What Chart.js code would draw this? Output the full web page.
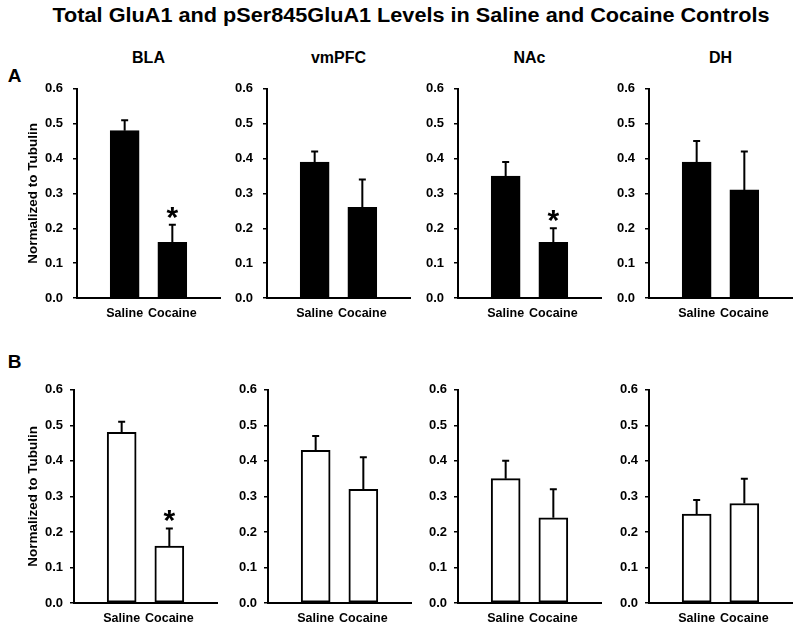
<!DOCTYPE html>
<html><head><meta charset="utf-8">
<script src="https://cdn.jsdelivr.net/npm/chart.js@4/dist/chart.umd.min.js"></script>
<style>
body{margin:0;background:#fff;}
#wrap{position:relative;width:800px;height:630px;overflow:hidden;background:#fff;font-family:"Liberation Sans",Arial,sans-serif;}
#wrap canvas{position:absolute;}
.lbl{position:absolute;white-space:nowrap;font-weight:bold;color:#000;font-family:"Liberation Sans",Arial,sans-serif;}
</style></head><body><div id="wrap"></div>
<script>
// ---------- data ----------
const figureTitle = 'Total GluA1 and pSer845GluA1 Levels in Saline and Cocaine Controls';
const regions = ['BLA', 'vmPFC', 'NAc', 'DH'];
const groups = ['Saline', 'Cocaine'];
const rowLabels = ['A', 'B'];
const yTicks = [0.0, 0.1, 0.2, 0.3, 0.4, 0.5, 0.6];
const yAxisTitle = 'Normalized to Tubulin';

// Row A: total GluA1  (per region: [Saline, Cocaine])
const totalMean = [[0.48, 0.16], [0.39, 0.26], [0.35, 0.16], [0.39, 0.31]];
const totalSem  = [[0.03, 0.05], [0.03, 0.08], [0.04, 0.04], [0.06, 0.11]];
const totalSig  = [[false, true], [false, false], [false, true], [false, false]];

// Row B: pSer845 GluA1
const phosMean = [[0.48, 0.16], [0.43, 0.32], [0.35, 0.24], [0.25, 0.28]];
const phosSem  = [[0.03, 0.05], [0.04, 0.09], [0.05, 0.08], [0.04, 0.07]];
const phosSig  = [[false, true], [false, false], [false, false], [false, false]];

// ---------- layout ----------
const FAM = '"Liberation Sans", Arial, sans-serif';
const rows = [
  {mean: totalMean, sem: totalSem, sig: totalSig, fill: '#000000', plotTop: 81, plotBottom: 298,
   axisX: [77, 267, 458, 649], tickPad: 10, titlePad: 25, rowBase: 82},
  {mean: phosMean, sem: phosSem, sig: phosSig, fill: '#ffffff', plotTop: 385, plotBottom: 603,
   axisX: [74, 268, 458, 649], tickPad: 7, titlePad: 28, rowBase: 368}
];
const YW = 77, PW = 143, PADT = 10, XH = 30;
const wrap = document.getElementById('wrap');

function addLabel(text, size, cx, baseline) {
  const d = document.createElement('div');
  d.className = 'lbl';
  d.textContent = text;
  d.style.fontSize = size + 'px';
  d.style.lineHeight = size + 'px';
  d.style.left = cx + 'px';
  d.style.top = (baseline - 0.8465 * size) + 'px';
  d.style.transform = 'translateX(-50%)';
  wrap.appendChild(d);
  return d;
}

// figure title
const t = addLabel(figureTitle, 20, 411, 22);
const tw = t.offsetWidth;
const k = 717 / tw;
t.style.transform = 'translateX(-50%) scaleX(' + k + ')';

const errPlugin = {
  id: 'err',
  afterDatasetsDraw(chart, args, opts) {
    const {ctx, scales: {x, y}} = chart;
    ctx.save();
    ctx.strokeStyle = '#000';
    ctx.lineWidth = 2;
    opts.mean.forEach((m, i) => {
      const px = x.getPixelForValue(i + 1);
      const y0 = y.getPixelForValue(m);
      const y1 = y.getPixelForValue(m + opts.sem[i]);
      ctx.beginPath();
      ctx.moveTo(px, y0); ctx.lineTo(px, y1);
      ctx.moveTo(px - 3.5, y1); ctx.lineTo(px + 3.5, y1);
      ctx.stroke();
      if (opts.sig[i]) {
        ctx.fillStyle = '#000';
        ctx.font = 'bold 30px ' + FAM;
        ctx.textAlign = 'center';
        ctx.textBaseline = 'alphabetic';
        ctx.fillText('*', px, y1 + 2);
      }
    });
    ctx.restore();
  }
};

rows.forEach((row, r) => {
  addLabel(rowLabels[r], 19, 14.5, row.rowBase);
  regions.forEach((reg, c) => {
    const ax = row.axisX[c];
    if (r === 0) addLabel(reg, 16, ax + PW / 2, 64);
    const cv = document.createElement('canvas');
    const w = YW + PW + 4;
    const h = PADT + (row.plotBottom - row.plotTop) + XH;
    cv.width = w; cv.height = h;
    cv.style.width = w + 'px'; cv.style.height = h + 'px';
    cv.style.left = (ax - YW) + 'px';
    cv.style.top = (row.plotTop - PADT) + 'px';
    wrap.appendChild(cv);
    const mean = row.mean[c], sem = row.sem[c], sig = row.sig[c];
    new Chart(cv, {
      type: 'bar',
      data: {
        datasets: [{
          data: mean.map((v, i) => ({x: i + 1, y: v})),
          backgroundColor: row.fill,
          borderColor: '#000',
          borderWidth: 2,
          borderSkipped: false,
          barThickness: 29
        }]
      },
      options: {
        responsive: false, animation: false, devicePixelRatio: 1,
        layout: {padding: {top: PADT, right: 4, left: 0, bottom: 0}},
        plugins: {legend: {display: false}, tooltip: {enabled: false}, err: {mean, sem, sig}},
        scales: {
          x: {
            type: 'linear', min: 0, max: 3, offset: false,
            afterBuildTicks: s => { s.ticks = groups.map((g, i) => ({value: i + 1})); },
            afterFit: s => { s.height = XH; },
            ticks: {callback: v => groups[v - 1], color: '#000', font: {family: FAM, weight: 'bold', size: 12.5},
                    padding: 8, maxRotation: 0, autoSkip: false},
            grid: {display: false, drawTicks: false},
            border: {display: true, color: '#000', width: 2}
          },
          y: {
            type: 'linear', min: 0, max: 0.6,
            afterBuildTicks: s => { s.ticks = yTicks.map(v => ({value: v})); },
            afterFit: s => { s.width = YW; },
            ticks: {callback: v => Number(v).toFixed(1), color: '#000', font: {family: FAM, weight: 'bold', size: 13},
                    padding: row.tickPad},
            grid: {drawOnChartArea: false, drawTicks: true, tickLength: 4, color: '#000', lineWidth: 1.5},
            border: {display: true, color: '#000', width: 2},
            title: {display: c === 0, text: yAxisTitle, color: '#000',
                    font: {family: FAM, weight: 'bold', size: 13.5}, padding: {top: row.titlePad, bottom: 0}}
          }
        }
      },
      plugins: [errPlugin]
    });
  });
});
</script></body></html>
